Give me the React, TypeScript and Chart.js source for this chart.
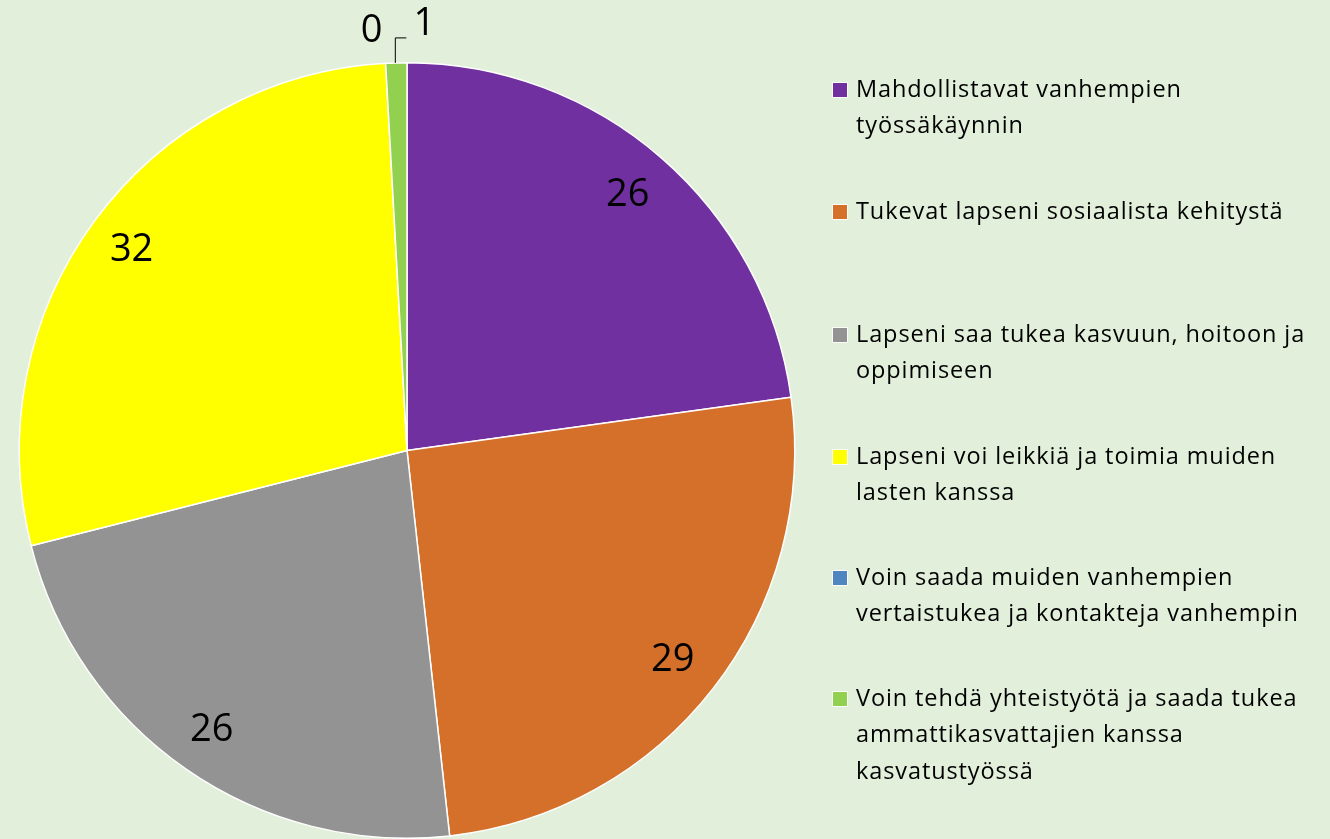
import React, { useEffect, useRef } from "react";
import { Chart, registerables } from "chart.js";

Chart.register(...registerables);

const categories: string[] = [
  "Mahdollistavat vanhempien työssäkäynnin",
  "Tukevat lapseni sosiaalista kehitystä",
  "Lapseni saa tukea kasvuun, hoitoon ja oppimiseen",
  "Lapseni voi leikkiä ja toimia muiden lasten kanssa",
  "Voin saada muiden vanhempien vertaistukea ja kontakteja vanhempin",
  "Voin tehdä yhteistyötä ja saada tukea ammattikasvattajien kanssa kasvatustyössä",
];
const legendLines: string[][] = [
  ["Mahdollistavat vanhempien", "työssäkäynnin"],
  ["Tukevat lapseni sosiaalista kehitystä"],
  ["Lapseni saa tukea kasvuun, hoitoon ja", "oppimiseen"],
  ["Lapseni voi leikkiä ja toimia muiden", "lasten kanssa"],
  ["Voin saada muiden vanhempien", "vertaistukea ja kontakteja vanhempin"],
  ["Voin tehdä yhteistyötä ja saada tukea", "ammattikasvattajien kanssa", "kasvatustyössä"],
];
const values: number[] = [26, 29, 26, 32, 0, 1];
const colors: string[] = ["#7030A0", "#D4702A", "#939393", "#FFFF00", "#4F86C0", "#92D050"];
const legendTops: number[] = [90, 212, 335, 457, 578, 699];

const BG = "#E2EFDA";
const FONT = "'Open Sans', Lato, sans-serif";

const bgPlugin = {
  id: "bg",
  beforeDraw(chart: any) {
    const { ctx, width, height } = chart;
    ctx.save();
    ctx.fillStyle = BG;
    ctx.fillRect(0, 0, width, height);
    ctx.restore();
  },
};

const labelPlugin = {
  id: "labels",
  afterDatasetsDraw(chart: any) {
    const { ctx } = chart;
    const meta = chart.getDatasetMeta(0);
    ctx.save();
    ctx.fillStyle = "#000";
    ctx.textAlign = "center";
    ctx.textBaseline = "middle";
    ctx.font = `38px ${FONT}`;
    meta.data.forEach((arc: any, i: number) => {
      const v = values[i];
      const { x, y, startAngle, endAngle, outerRadius } = arc.getProps(
        ["x", "y", "startAngle", "endAngle", "outerRadius"],
        true
      );
      const mid = (startAngle + endAngle) / 2;
      if (v >= 5) {
        const r = outerRadius * 0.875;
        ctx.fillText(String(v), x + Math.cos(mid) * r - 2, y + Math.sin(mid) * r + 1);
      } else if (v === 0) {
        const ex = x + Math.cos(mid) * outerRadius;
        const ey = y + Math.sin(mid) * outerRadius;
        ctx.fillText(String(v), ex - 14, ey - 32);
      } else {
        const ex = x + Math.cos(mid) * outerRadius;
        const ey = y + Math.sin(mid) * outerRadius;
        ctx.strokeStyle = "#000";
        ctx.lineWidth = 1;
        ctx.beginPath();
        ctx.moveTo(ex - 1, ey);
        ctx.lineTo(ex - 1, ey - 25);
        ctx.lineTo(ex + 10, ey - 25);
        ctx.stroke();
        ctx.fillText(String(v), ex + 28, ey - 39);
      }
    });
    ctx.restore();
  },
};

const legendPlugin = {
  id: "customLegend",
  afterDraw(chart: any) {
    const { ctx } = chart;
    ctx.save();
    ctx.font = `23.5px ${FONT}`;
    try {
      (ctx as any).letterSpacing = "0.9px";
    } catch (e) {}
    ctx.textBaseline = "middle";
    ctx.textAlign = "left";
    legendLines.forEach((lines, i) => {
      const top = legendTops[i];
      ctx.fillStyle = colors[i];
      ctx.fillRect(833, top - 7, 14, 14);
      ctx.strokeStyle = "rgba(255,255,255,0.8)";
      ctx.lineWidth = 1;
      ctx.strokeRect(832.5, top - 7.5, 15, 15);
      ctx.fillStyle = "#000";
      lines.forEach((ln, j) => {
        ctx.fillText(ln, 856, top + j * 36.5);
      });
    });
    ctx.restore();
  },
};

export default function App() {
  const ref = useRef<HTMLCanvasElement | null>(null);
  useEffect(() => {
    document.body.style.margin = "0";
    const chart = new Chart(ref.current as HTMLCanvasElement, {
      type: "pie",
      data: {
        labels: categories,
        datasets: [
          {
            data: values,
            backgroundColor: colors,
            borderColor: "#FFFFFF",
            borderWidth: 1.5,
          },
        ],
      },
      options: {
        animation: false,
        responsive: false,
        maintainAspectRatio: false,
        layout: { padding: { left: 18, right: 534, top: 62, bottom: -1 } },
        plugins: {
          legend: { display: false },
          tooltip: { enabled: false },
        },
      },
      plugins: [bgPlugin, labelPlugin, legendPlugin],
    });
    return () => chart.destroy();
  }, []);
  return (
    <div style={{ width: 1330, height: 839, overflow: "hidden", background: BG }}>
      <canvas ref={ref} width={1330} height={839} style={{ display: "block" }} />
    </div>
  );
}
